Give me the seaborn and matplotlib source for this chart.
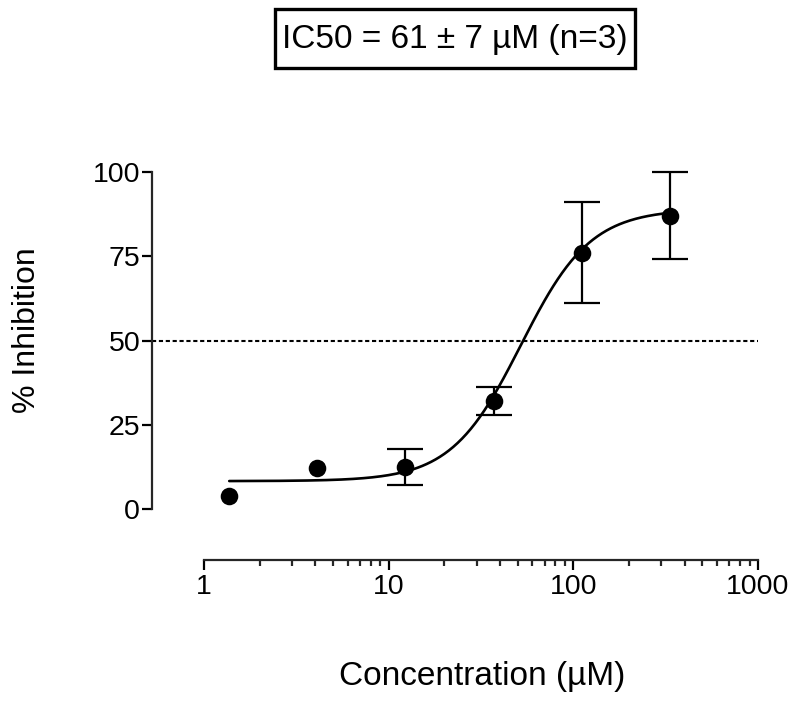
import numpy as np
import pandas as pd
import matplotlib
matplotlib.use("Agg")
import matplotlib.pyplot as plt
import seaborn as sns
from matplotlib.patches import Rectangle
from matplotlib.ticker import NullFormatter, FixedLocator

# measured points (3-fold dilution series)
conc = [1.37, 4.1, 12.3, 37.0, 111.0, 333.0]
inhibition = [3.9, 12.2, 12.5, 32.0, 76.0, 87.0]
sem = [0.0, 0.0, 5.3, 4.2, 15.0, 12.9]

# fitted 4-parameter logistic
bottom = 8.3
top = 89.0
ic50_fit = 52.0
hill = 2.3

y_ticks = [0, 25, 50, 75, 100]
x_ticks = [1, 10, 100, 1000]
x_ticklabels = ["1", "10", "100", "1000"]
title_text = "IC50 = 61 \u00b1 7 \u00b5M (n=3)"

sns.set_theme(style="ticks")
plt.rcParams["font.family"] = ["Liberation Sans", "DejaVu Sans"]
plt.rcParams["text.color"] = "black"
plt.rcParams["axes.labelcolor"] = "black"

df = pd.DataFrame({"conc": conc, "inhibition": inhibition, "sem": sem})
xs = np.logspace(np.log10(conc[0]), np.log10(conc[-1]), 300)
fit = pd.DataFrame({"conc": xs,
                    "inhibition": bottom + (top - bottom) / (1 + (ic50_fit / xs) ** hill)})

fig = plt.figure(figsize=(8, 7.02), dpi=100)
ax = fig.add_axes([0.19, 0.2023, 0.7575, 0.5527])

ax.axhline(50, color="black", lw=1.5, ls=(0, (2, 1.3)), zorder=1)
sns.lineplot(data=fit, x="conc", y="inhibition", ax=ax, color="black", lw=1.9, zorder=2)
err = df[df["sem"] > 0]
ax.errorbar(err["conc"], err["inhibition"], yerr=err["sem"], fmt="none", ecolor="black",
            elinewidth=1.6, capsize=13, capthick=1.6, zorder=3, clip_on=False)
sns.scatterplot(data=df, x="conc", y="inhibition", ax=ax, color="black", s=160,
                edgecolor="black", linewidth=0, zorder=4, clip_on=False)

ax.set_xscale("log")
ax.set_xlim(0.523, 1000)
ax.set_ylim(-15.1, 100)
ax.spines["top"].set_visible(False)
ax.spines["right"].set_visible(False)
ax.spines["left"].set_bounds(0, 100)
ax.spines["bottom"].set_bounds(1, 1000)
for s in ["left", "bottom"]:
    ax.spines[s].set_linewidth(1.6)

minor = [m * d for d in (1, 10, 100) for m in range(2, 10)]
ax.xaxis.set_major_locator(FixedLocator(x_ticks))
ax.set_xticklabels(x_ticklabels)
ax.xaxis.set_minor_locator(FixedLocator(minor))
ax.xaxis.set_minor_formatter(NullFormatter())
ax.set_yticks(y_ticks)
ax.tick_params(axis="both", which="major", width=1.6, length=7, labelsize=20.5, colors="black")
ax.tick_params(axis="y", which="major", pad=1.5)
ax.tick_params(axis="x", which="major", pad=3)
ax.tick_params(axis="x", which="minor", width=1.6, length=4)

ax.set_xlabel("Concentration (\u00b5M)", fontsize=24, va="center")
ax.xaxis.set_label_coords(0.545, -0.3015)
ax.set_ylabel("% Inhibition", fontsize=23, va="center")
ax.yaxis.set_label_coords(-0.206, 0.593)

fig.patches.append(Rectangle((0.34375, 0.9031), 0.45, 0.084, transform=fig.transFigure,
                             facecolor="white", edgecolor="black", linewidth=2.4))
fig.text(0.56875, 0.9444, title_text, fontsize=24, ha="center", va="center")

fig.savefig("out.png", dpi=100)
